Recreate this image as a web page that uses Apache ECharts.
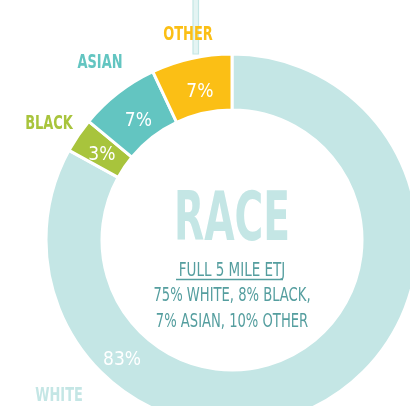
<!DOCTYPE html>
<html>
<head>
<meta charset="utf-8">
<style>
  html, body { margin: 0; padding: 0; background: #ffffff; }
  #chart { width: 410px; height: 406px; }
</style>
<script src="https://cdn.jsdelivr.net/npm/echarts@6/dist/echarts.min.js"></script>
</head>
<body>
<div id="chart"></div>
<script>
// Race breakdown (percent), drawn clockwise from 12 o'clock
const categories = ['WHITE', 'BLACK', 'ASIAN', 'OTHER'];
const shares = [83, 3, 7, 7];
const sliceColors = ['#c4e6e5', '#a8c43c', '#63c5c1', '#fbbf15'];

// Centre caption
const titleText = 'RACE';
const subHeading = 'FULL 5 MILE ETJ';
const subLines = ['75% WHITE, 8% BLACK,', '7% ASIAN, 10% OTHER'];

const FONT = "'Liberation Sans Narrow', 'DejaVu Sans Condensed', 'Roboto', sans-serif";
const CAPTION = '#559e9f';

// Where each category name sits around the ring
const namePlacement = {
  WHITE: [59, 396],
  BLACK: [49, 124],
  ASIAN: [100, 63],
  OTHER: [188, 35]
};

// Nudges that pull the small slices' values a little toward the hole
const valueNudge = [null, [3, 6], [5, 8], [3, 9]];

const chart = echarts.init(document.getElementById('chart'), null, { renderer: 'canvas' });

const nameTexts = categories.map((name, i) => ({
  type: 'text',
  x: namePlacement[name][0],
  y: namePlacement[name][1],
  scaleX: 0.72,
  z: 20,
  style: {
    text: name,
    fill: sliceColors[i],
    font: 'bold 20px ' + FONT,
    textAlign: 'center',
    textVerticalAlign: 'middle'
  }
}));

chart.setOption({
  animation: false,
  backgroundColor: '#ffffff',
  series: [{
    type: 'pie',
    center: [232, 240],
    radius: [130, 186],
    startAngle: 90,
    clockwise: true,
    avoidLabelOverlap: false,
    silent: true,
    itemStyle: { borderColor: '#ffffff', borderWidth: 3 },
    label: {
      show: true,
      position: 'inside',
      formatter: '{c}%',
      color: '#ffffff',
      fontFamily: FONT,
      fontSize: 19,
      fontWeight: 500
    },
    labelLine: { show: false },
    labelLayout: function (params) {
      // the large slice keeps its value on the visible lower-left part of the ring
      if (params.dataIndex === 0) {
        return { x: 122, y: 360, align: 'center', verticalAlign: 'middle' };
      }
      const n = valueNudge[params.dataIndex];
      return { dx: n[0], dy: n[1] };
    },
    data: categories.map((name, i) => ({
      name: name,
      value: shares[i],
      itemStyle: { color: sliceColors[i] }
    }))
  }],
  graphic: [
    {
      type: 'rect',
      z: 5,
      shape: { x: 193, y: -2, width: 5.5, height: 56 },
      style: { fill: '#e4f4f3', stroke: '#c4e6e5', lineWidth: 1.2 }
    },
    ...nameTexts,
    {
      type: 'text',
      x: 232,
      y: 223,
      scaleX: 0.65,
      z: 20,
      style: {
        text: titleText,
        fill: '#c4e6e5',
        font: 'bold 67px ' + FONT,
        textAlign: 'center',
        textVerticalAlign: 'middle'
      }
    },
    {
      type: 'text',
      x: 232,
      y: 271,
      scaleX: 0.75,
      z: 20,
      style: {
        text: subHeading,
        fill: CAPTION,
        font: '20px ' + FONT,
        textAlign: 'center',
        textVerticalAlign: 'middle'
      }
    },
    {
      type: 'line',
      z: 20,
      shape: { x1: 176, y1: 279.5, x2: 283, y2: 279.5 },
      style: { stroke: CAPTION, lineWidth: 1.5 }
    },
    ...subLines.map((line, i) => ({
      type: 'text',
      x: 232,
      y: 296 + i * 26,
      scaleX: 0.73,
      z: 20,
      style: {
        text: line,
        fill: CAPTION,
        font: '20px ' + FONT,
        textAlign: 'center',
        textVerticalAlign: 'middle'
      }
    }))
  ]
});
</script>
</body>
</html>
